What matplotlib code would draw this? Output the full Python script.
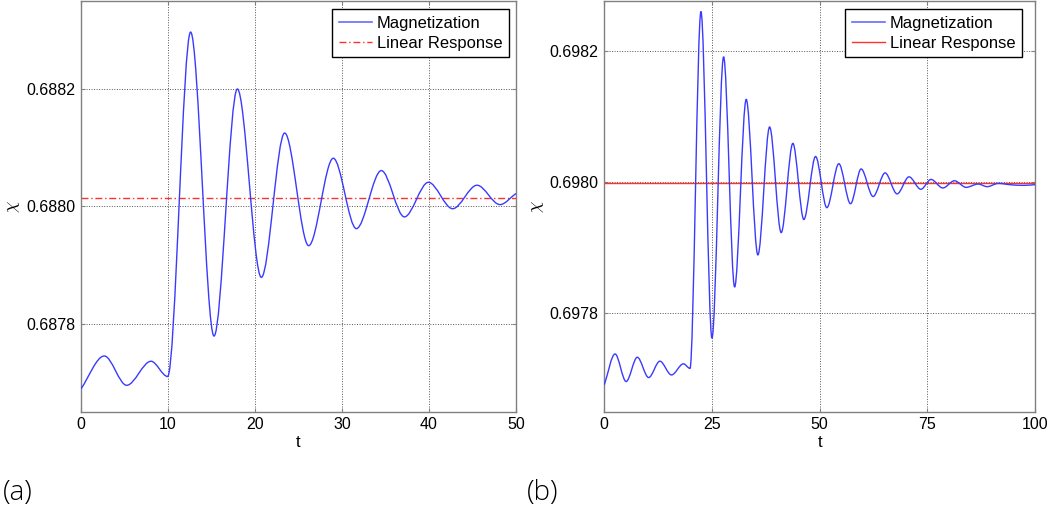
import numpy as np
import matplotlib
matplotlib.use("Agg")
import matplotlib.pyplot as plt
from matplotlib.path import Path
from matplotlib.patches import PathPatch
from matplotlib.lines import Line2D

# ---------------- data ----------------
# panel (a): extrema / end points of the magnetization curve
t_a = [0.0, 2.68, 5.25, 8.05, 9.96, 12.6, 15.29, 17.97, 20.73, 23.41, 26.17,
       29.0, 31.65, 34.52, 37.17, 39.93, 42.72, 45.52, 48.16, 50.0]
chi_a = [0.687689, 0.687745, 0.687695, 0.687736, 0.687710, 0.688297, 0.687779,
         0.688200, 0.687879, 0.688125, 0.687933, 0.688082, 0.687962, 0.688061,
         0.687982, 0.688041, 0.687996, 0.688036, 0.688003, 0.688022]
linear_a = 0.688015

# panel (b)
t_b = [0.0, 2.5, 5.07, 7.66, 10.3, 12.9, 15.6, 18.37, 19.9, 22.44, 25.0, 27.7,
       30.26, 32.95, 35.66, 38.38, 41.07, 43.78, 46.33, 49.05, 51.67, 54.45,
       57.17, 59.63, 62.41, 65.2, 67.98, 70.75, 73.5, 75.85, 78.6, 81.3, 84.0,
       86.8, 88.9, 91.5, 94.2, 97.3, 100.0]
chi_b = [0.697691, 0.697738, 0.697696, 0.697733, 0.697702, 0.697727, 0.697706,
         0.697723, 0.697716, 0.698260, 0.697762, 0.698191, 0.697840, 0.698126,
         0.697889, 0.698084, 0.697923, 0.698059, 0.697943, 0.698039, 0.697961,
         0.698028, 0.697967, 0.698020, 0.697978, 0.698014, 0.697982, 0.698008,
         0.697989, 0.698004, 0.697991, 0.698002, 0.697992, 0.697997, 0.697993,
         0.697998, 0.697996, 0.697995, 0.697996]
linear_b = 0.697998

xticks_a = [0, 10, 20, 30, 40, 50]
yticks_a = [0.6878, 0.6880, 0.6882]
xticks_b = [0, 25, 50, 75, 100]
yticks_b = [0.6978, 0.6980, 0.6982]
labels = ["Magnetization", "Linear Response"]
panel_tags = ["(a)", "(b)"]

# ---------------- style ----------------
plt.rcParams["mathtext.fontset"] = "cm"
plt.rcParams["font.family"] = ["Liberation Sans", "DejaVu Sans"]

BLUE = "#3a3aff"
BLUE_LEG = "#6a6aff"
RED = "#ff3030"
SPINE = "#808080"
GRID = "#555555"
FS = 11.5
FS_LEG = 11.9


def smooth_path(t, y):
    """Smooth Bezier path through the read points (horizontal tangents at extrema)."""
    t = np.asarray(t, float)
    y = np.asarray(y, float)
    n = len(t)
    m = np.zeros(n)
    for i in range(n):
        if i == 0:
            m[i] = (y[1] - y[0]) / (t[1] - t[0])
        elif i == n - 1:
            m[i] = (y[-1] - y[-2]) / (t[-1] - t[-2])
        elif (y[i] - y[i - 1]) * (y[i + 1] - y[i]) <= 0:
            m[i] = 0.0
        else:
            m[i] = (y[i + 1] - y[i - 1]) / (t[i + 1] - t[i - 1])
    verts = [(t[0], y[0])]
    codes = [Path.MOVETO]
    for i in range(n - 1):
        h = (t[i + 1] - t[i]) / 3.0
        verts += [(t[i] + h, y[i] + h * m[i]),
                  (t[i + 1] - h, y[i + 1] - h * m[i + 1]),
                  (t[i + 1], y[i + 1])]
        codes += [Path.CURVE4] * 3
    return Path(verts, codes)


W, H = 1054, 514
fig = plt.figure(figsize=(W / 100, H / 100), dpi=100)

bottom = (H - 411.7) / H
height = 410.7 / H
ax_a = fig.add_axes([81 / W, bottom, 435 / W, height])
ax_b = fig.add_axes([604.3 / W, bottom, 430.7 / W, height])


def style(ax, t, chi, lin, lin_ls, xticks, yticks, xlim, ylim, leg_anchor):
    ax.add_patch(PathPatch(smooth_path(t, chi), fill=False, edgecolor=BLUE,
                           lw=1.0, zorder=3, transform=ax.transData))
    ax.axhline(lin, color=RED, lw=1.0, ls=lin_ls, zorder=2.5)
    ax.set_xlim(*xlim)
    ax.set_ylim(*ylim)
    ax.set_xticks(xticks)
    ax.set_xticklabels([str(v) for v in xticks])
    ax.set_yticks(yticks)
    ax.set_yticklabels(["%.4f" % v for v in yticks])
    ax.set_axisbelow(True)
    ax.grid(True, color=GRID, ls=(0, (1, 1.6)), lw=0.7)
    for s in ax.spines.values():
        s.set_color(SPINE)
        s.set_linewidth(1.0)
    ax.tick_params(direction="in", length=3, color=SPINE, labelsize=FS,
                   pad=4, top=True, right=True, labelcolor="black")
    ax.set_xlabel("t", fontsize=FS + 0.5, labelpad=2)
    ax.set_ylabel(r"$\chi$", fontsize=13)
    ax.yaxis.set_label_coords(-0.135, 0.5)
    handles = [Line2D([], [], color=BLUE_LEG, lw=1.2),
               Line2D([], [], color=RED, lw=1.0, ls=lin_ls)]
    leg = ax.legend(handles, labels, loc="upper right", fontsize=FS_LEG,
                    frameon=True, fancybox=False, framealpha=1,
                    edgecolor="black", borderpad=0.4, labelspacing=0.3,
                    handlelength=2.0, handletextpad=0.3, borderaxespad=0.0,
                    bbox_to_anchor=leg_anchor)
    leg.get_frame().set_linewidth(1.0)


style(ax_a, t_a, chi_a, linear_a, (0, (5, 2, 1, 2)), xticks_a, yticks_a,
      (0, 50), (0.68765, 0.68835), (1 - 7 / 435, 1 - 8 / 410.7))
style(ax_b, t_b, chi_b, linear_b, "-", xticks_b, yticks_b,
      (0, 100), (0.69765, 0.698276), (1 - 13 / 430.7, 1 - 8 / 410.7))

tag_kw = dict(fontsize=20, family=["Open Sans", "DejaVu Sans"],
              weight="light", va="baseline", ha="left")
fig.text(3 / W, 14 / H, panel_tags[0], **tag_kw)
fig.text(527 / W, 14 / H, panel_tags[1], **tag_kw)

fig.savefig("out.png", dpi=100)
